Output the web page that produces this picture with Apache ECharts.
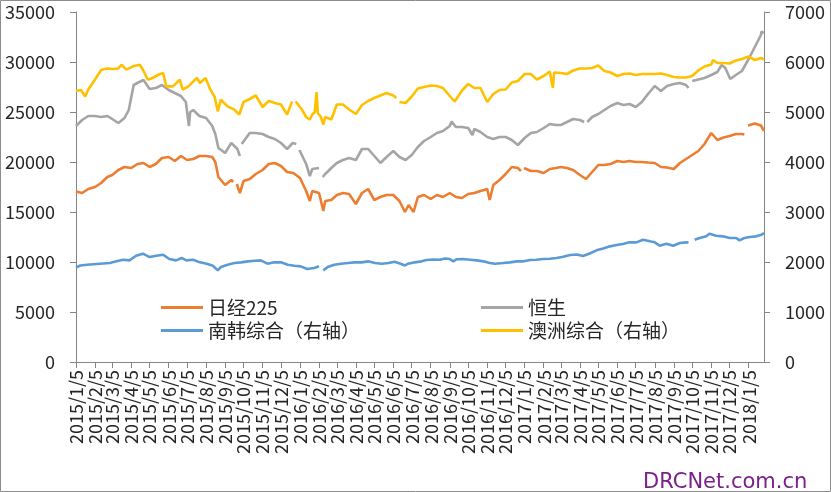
<!DOCTYPE html>
<html>
<head>
<meta charset="UTF-8">
<title>日经225 恒生 南韩综合 澳洲综合</title>
<script src="https://cdn.jsdelivr.net/npm/echarts@6/dist/echarts.min.js"></script>
<style>
html, body { margin: 0; padding: 0; background: #fff; }
#main { width: 831px; height: 492px; }
</style>
</head>
<body>
<div id="main"></div>
<script type="text/javascript">
// 数据：从图上读取，约每10天一个点；null 表示休市断点
var nikkei = [
  ['2015/1/5',17060],['2015/1/15',16900],['2015/1/25',17300],['2015/2/5',17500],['2015/2/15',17900],['2015/2/25',18500],
  ['2015/3/5',18700],['2015/3/15',19200],['2015/3/25',19500],['2015/4/5',19400],['2015/4/15',19800],['2015/4/25',19900],
  ['2015/5/5',19500],['2015/5/15',19800],['2015/5/25',20400],['2015/6/5',20500],['2015/6/15',20100],['2015/6/25',20600],
  ['2015/7/5',20200],['2015/7/15',20300],['2015/7/25',20600],['2015/8/5',20600],['2015/8/15',20500],['2015/8/20',20000],
  ['2015/8/25',18500],['2015/9/5',17700],['2015/9/15',18200],['2015/9/18',18000],['2015/9/21',null],['2015/9/24',17800],
  ['2015/9/29',16900],['2015/10/5',18100],['2015/10/15',18300],['2015/10/25',18800],['2015/11/5',19200],['2015/11/15',19800],
  ['2015/11/25',19900],['2015/12/5',19600],['2015/12/15',19000],['2015/12/25',18900],['2016/1/5',18400],['2016/1/15',17100],
  ['2016/1/21',16100],['2016/1/25',17100],['2016/2/5',16900],['2016/2/12',15100],['2016/2/15',16100],['2016/2/25',16200],
  ['2016/3/5',16700],['2016/3/15',16900],['2016/3/25',16800],['2016/4/5',15800],['2016/4/15',16900],['2016/4/25',17300],
  ['2016/5/5',16200],['2016/5/15',16500],['2016/5/25',16700],['2016/6/5',16700],['2016/6/15',16100],['2016/6/24',15000],
  ['2016/6/30',15700],['2016/7/8',15000],['2016/7/15',16500],['2016/7/25',16700],['2016/8/5',16300],['2016/8/15',16700],
  ['2016/8/25',16500],['2016/9/5',16900],['2016/9/15',16500],['2016/9/25',16400],['2016/10/5',16800],['2016/10/15',16900],
  ['2016/10/25',17100],['2016/11/5',17300],['2016/11/9',16200],['2016/11/15',17700],['2016/11/25',18200],['2016/12/5',18800],
  ['2016/12/15',19500],['2016/12/25',19400],['2016/12/30',19100],['2017/1/2',null],['2017/1/4',19400],['2017/1/15',19100],
  ['2017/1/25',19100],['2017/2/5',18900],['2017/2/15',19300],['2017/2/25',19400],['2017/3/5',19500],['2017/3/15',19400],
  ['2017/3/25',19200],['2017/4/5',18700],['2017/4/15',18300],['2017/4/25',19000],['2017/5/5',19700],['2017/5/15',19700],
  ['2017/5/25',19800],['2017/6/5',20100],['2017/6/15',20000],['2017/6/25',20100],['2017/7/5',20000],['2017/7/15',20000],
  ['2017/7/25',19950],['2017/8/5',19900],['2017/8/15',19500],['2017/8/25',19450],['2017/9/5',19300],['2017/9/8',19150],
  ['2017/9/15',19900],['2017/9/25',20300],['2017/10/5',20700],['2017/10/15',21100],['2017/10/25',21800],['2017/11/5',22900],
  ['2017/11/15',22200],['2017/11/25',22450],['2017/12/5',22600],['2017/12/15',22800],['2017/12/25',22800],['2017/12/29',22750],
  ['2018/1/1',null],['2018/1/4',23650],['2018/1/15',23850],['2018/1/25',23650],['2018/1/30',23100]
];

var hangSeng = [
  ['2015/1/5',23600],['2015/1/15',24200],['2015/1/25',24600],['2015/2/5',24600],['2015/2/15',24500],['2015/2/25',24600],
  ['2015/3/5',24300],['2015/3/15',23900],['2015/3/25',24400],['2015/4/1',25200],['2015/4/9',27700],['2015/4/15',27900],
  ['2015/4/25',28200],['2015/5/5',27300],['2015/5/15',27400],['2015/5/25',27700],['2015/6/5',27200],['2015/6/15',26900],
  ['2015/6/25',26600],['2015/7/3',26000],['2015/7/8',23600],['2015/7/10',25000],['2015/7/15',25200],['2015/7/25',24600],
  ['2015/8/5',24400],['2015/8/15',23600],['2015/8/20',22800],['2015/8/25',21400],['2015/9/5',20900],['2015/9/15',21900],
  ['2015/9/25',21300],['2015/9/29',20600],['2015/9/30',null],['2015/10/2',21800],['2015/10/15',22900],['2015/10/25',22900],
  ['2015/11/5',22800],['2015/11/15',22500],['2015/11/25',22300],['2015/12/5',21900],['2015/12/15',21300],['2015/12/24',21900],
  ['2015/12/30',21800],['2016/1/1',null],['2016/1/4',21200],['2016/1/15',19800],['2016/1/21',18600],['2016/1/25',19300],
  ['2016/2/5',19400],['2016/2/9',null],['2016/2/11',18500],['2016/2/12',18400],['2016/2/15',18800],['2016/2/25',19400],
  ['2016/3/5',19900],['2016/3/15',20200],['2016/3/25',20400],['2016/4/5',20200],['2016/4/15',21300],['2016/4/25',21300],
  ['2016/5/5',20600],['2016/5/15',19900],['2016/5/25',20500],['2016/6/5',21100],['2016/6/15',20500],['2016/6/25',20200],
  ['2016/7/5',20700],['2016/7/15',21500],['2016/7/25',22100],['2016/8/5',22500],['2016/8/15',22900],['2016/8/25',23100],
  ['2016/9/5',23600],['2016/9/8',24050],['2016/9/15',23500],['2016/9/25',23500],['2016/10/5',23400],['2016/10/12',22700],
  ['2016/10/15',23300],['2016/10/25',23000],['2016/11/5',22500],['2016/11/15',22300],['2016/11/25',22500],['2016/12/5',22500],
  ['2016/12/15',22200],['2016/12/25',21700],['2017/1/5',22400],['2017/1/15',22900],['2017/1/25',23000],['2017/2/5',23400],
  ['2017/2/15',23800],['2017/2/25',23700],['2017/3/5',23700],['2017/3/15',24000],['2017/3/25',24300],['2017/4/5',24200],
  ['2017/4/12',24000],['2017/4/14',null],['2017/4/17',24000],['2017/4/25',24500],['2017/5/5',24800],['2017/5/15',25200],
  ['2017/5/25',25600],['2017/6/5',25900],['2017/6/15',25700],['2017/6/25',25800],['2017/7/5',25500],['2017/7/15',26000],
  ['2017/7/25',26800],['2017/8/5',27600],['2017/8/15',27100],['2017/8/25',27600],['2017/9/5',27800],['2017/9/15',27900],
  ['2017/9/25',27700],['2017/9/29',27400],['2017/10/2',null],['2017/10/5',28100],['2017/10/15',28250],['2017/10/25',28400],
  ['2017/11/5',28700],['2017/11/15',29000],['2017/11/22',29700],['2017/11/28',29400],['2017/12/6',28300],['2017/12/15',28700],
  ['2017/12/25',29100],['2018/1/5',30300],['2018/1/15',31500],['2018/1/25',32700],['2018/1/26',33050],['2018/1/30',32900]
];

var kospi = [
  ['2015/1/5',1890],['2015/1/12',1930],['2015/1/23',1946],['2015/2/13',1966],['2015/3/1',1979],['2015/3/12',2013],
  ['2015/3/23',2046],['2015/4/2',2033],['2015/4/13',2126],['2015/4/24',2166],['2015/5/5',2099],['2015/5/16',2126],
  ['2015/5/27',2146],['2015/6/6',2059],['2015/6/17',2033],['2015/6/26',2079],['2015/7/4',2033],['2015/7/15',2046],
  ['2015/7/26',1993],['2015/8/6',1966],['2015/8/16',1926],['2015/8/24',1833],['2015/8/29',1899],['2015/9/9',1946],
  ['2015/9/20',1979],['2015/10/1',1993],['2015/10/12',2013],['2015/10/23',2026],['2015/11/2',2033],['2015/11/13',1966],
  ['2015/11/24',1993],['2015/12/5',1993],['2015/12/16',1946],['2015/12/27',1926],['2016/1/6',1913],['2016/1/17',1860],
  ['2016/1/28',1879],['2016/2/5',1913],['2016/2/9',null],['2016/2/12',1833],['2016/2/19',1899],['2016/3/1',1946],
  ['2016/3/12',1966],['2016/3/23',1979],['2016/4/3',1993],['2016/4/14',1993],['2016/4/25',2013],['2016/5/6',1979],
  ['2016/5/17',1966],['2016/5/28',1979],['2016/6/7',2006],['2016/6/18',1960],['2016/6/24',1930],['2016/6/29',1966],
  ['2016/7/10',1993],['2016/7/21',2013],['2016/7/29',2040],['2016/8/9',2050],['2016/8/20',2046],['2016/8/28',2070],
  ['2016/9/5',2059],['2016/9/11',2013],['2016/9/16',2055],['2016/9/27',2059],['2016/10/8',2046],['2016/10/19',2033],
  ['2016/10/30',2013],['2016/11/9',1979],['2016/11/18',1966],['2016/12/1',1979],['2016/12/12',1993],['2016/12/23',2013],
  ['2017/1/3',2013],['2017/1/14',2040],['2017/1/24',2046],['2017/2/4',2059],['2017/2/15',2065],['2017/2/26',2079],
  ['2017/3/9',2105],['2017/3/20',2140],['2017/3/31',2150],['2017/4/10',2120],['2017/4/21',2170],['2017/5/2',2233],
  ['2017/5/13',2270],['2017/5/24',2313],['2017/6/4',2339],['2017/6/14',2360],['2017/6/25',2393],['2017/7/6',2393],
  ['2017/7/17',2446],['2017/7/28',2413],['2017/8/5',2393],['2017/8/13',2326],['2017/8/24',2366],['2017/9/4',2326],
  ['2017/9/15',2379],['2017/9/26',2393],['2017/9/29',2390],['2017/10/4',null],['2017/10/9',2446],['2017/10/17',2479],
  ['2017/10/28',2513],['2017/11/2',2566],['2017/11/13',2526],['2017/11/24',2513],['2017/12/5',2479],['2017/12/16',2479],
  ['2017/12/21',2433],['2017/12/29',2479],['2018/1/7',2499],['2018/1/17',2513],['2018/1/26',2546],['2018/1/30',2579]
];

var asx = [
  ['2015/1/5',5420],['2015/1/13',5440],['2015/1/20',5310],['2015/1/25',5450],['2015/2/5',5650],['2015/2/15',5840],
  ['2015/2/25',5870],['2015/3/5',5860],['2015/3/15',5870],['2015/3/20',5946],['2015/3/28',5846],['2015/4/8',5913],
  ['2015/4/19',5946],['2015/4/24',5846],['2015/5/2',5646],['2015/5/10',5680],['2015/5/20',5750],['2015/5/27',5780],
  ['2015/6/1',5513],['2015/6/12',5513],['2015/6/23',5646],['2015/6/28',5446],['2015/7/7',5513],['2015/7/21',5680],
  ['2015/7/26',5580],['2015/8/4',5680],['2015/8/12',5446],['2015/8/19',5300],['2015/8/24',5013],['2015/8/29',5246],
  ['2015/9/9',5113],['2015/9/20',5046],['2015/9/28',4950],['2015/10/5',5200],['2015/10/15',5260],['2015/10/25',5330],
  ['2015/11/5',5100],['2015/11/15',5220],['2015/11/25',5180],['2015/12/5',5150],['2015/12/15',4950],['2015/12/23',5210],
  ['2015/12/25',null],['2015/12/29',5210],['2016/1/8',5050],['2016/1/15',4900],['2016/1/21',4850],['2016/1/25',4950],
  ['2016/1/29',5000],['2016/2/1',5400],['2016/2/3',4980],['2016/2/8',4900],['2016/2/12',4750],['2016/2/15',4900],
  ['2016/2/25',4850],['2016/3/5',5150],['2016/3/15',5150],['2016/3/25',5050],['2016/4/5',4960],['2016/4/15',5140],
  ['2016/4/25',5220],['2016/5/5',5280],['2016/5/15',5330],['2016/5/25',5380],['2016/6/5',5330],['2016/6/10',5280],
  ['2016/6/13',null],['2016/6/15',5200],['2016/6/25',5180],['2016/7/5',5310],['2016/7/15',5470],['2016/7/25',5500],
  ['2016/8/5',5530],['2016/8/15',5520],['2016/8/25',5480],['2016/9/5',5320],['2016/9/13',5210],['2016/9/25',5430],
  ['2016/10/5',5560],['2016/10/15',5480],['2016/10/25',5480],['2016/11/5',5200],['2016/11/15',5360],['2016/11/25',5440],
  ['2016/12/5',5450],['2016/12/15',5590],['2016/12/25',5620],['2017/1/5',5760],['2017/1/15',5760],['2017/1/25',5650],
  ['2017/2/5',5720],['2017/2/15',5810],['2017/2/20',5480],['2017/2/22',5790],['2017/3/5',5780],['2017/3/15',5760],
  ['2017/3/25',5830],['2017/4/5',5870],['2017/4/15',5870],['2017/4/25',5880],['2017/5/5',5930],['2017/5/15',5820],
  ['2017/5/25',5790],['2017/6/5',5720],['2017/6/15',5760],['2017/6/25',5770],['2017/7/5',5740],['2017/7/15',5760],
  ['2017/7/25',5760],['2017/8/5',5760],['2017/8/15',5770],['2017/8/25',5740],['2017/9/5',5700],['2017/9/15',5690],
  ['2017/9/25',5690],['2017/10/5',5720],['2017/10/15',5830],['2017/10/25',5910],['2017/11/5',5950],['2017/11/8',6040],
  ['2017/11/15',5980],['2017/11/25',5980],['2017/12/5',5970],['2017/12/15',6030],['2017/12/25',6060],['2018/1/5',6110],
  ['2018/1/15',6040],['2018/1/25',6080],['2018/1/30',6050]
];

var seriesNames = ['日经225', '恒生', '南韩综合（右轴）', '澳洲综合（右轴）'];
var seriesColors = ['#ED7D31', '#A5A5A5', '#5B9BD5', '#FFC000'];
var leftTicks = [0, 35000, 5000];
var rightTicks = [0, 7000, 1000];

// 横轴：逐日日期，每月5日标注
var categories = [];
var catIndex = {};
var day = new Date(2015, 0, 5);
var lastDay = new Date(2018, 0, 30);
while (day <= lastDay) {
    var key = day.getFullYear() + '/' + (day.getMonth() + 1) + '/' + day.getDate();
    catIndex[key] = categories.length;
    categories.push(key);
    day.setDate(day.getDate() + 1);
}

function toSeries(list) {
    return list.map(function (p) { return [catIndex[p[0]], p[1]]; });
}

function isMonthTick(index, value) {
    return value.split('/')[2] === '5';
}

var fontName = 'Noto Sans CJK SC';
var axisColor = '#868686';
var textColor = '#262626';

var myChart = echarts.init(document.getElementById('main'));

var legendBase = {
    orient: 'vertical',
    top: 291,
    icon: 'rect',
    itemWidth: 42,
    itemHeight: 3,
    itemGap: 0,
    textStyle: { fontSize: 19, lineHeight: 23, color: textColor, fontFamily: fontName }
};

option = {
    animation: false,
    backgroundColor: '#fff',
    textStyle: { fontFamily: fontName },
    grid: { left: 76, right: 67, top: 12, bottom: 130, outerBoundsMode: 'none' },
    legend: [
        Object.assign({}, legendBase, { left: 156, data: [seriesNames[0], seriesNames[2]] }),
        Object.assign({}, legendBase, { left: 476, data: [seriesNames[1], seriesNames[3]] })
    ],
    xAxis: {
        type: 'category',
        data: categories,
        boundaryGap: false,
        axisLine: { lineStyle: { color: axisColor, width: 1 } },
        axisTick: { interval: isMonthTick, length: 6, lineStyle: { color: axisColor } },
        axisLabel: {
            interval: isMonthTick,
            rotate: 90,
            margin: 8,
            fontSize: 18,
            color: textColor,
            fontFamily: fontName
        },
        splitLine: { show: false }
    },
    yAxis: [{
        type: 'value',
        position: 'left',
        min: leftTicks[0],
        max: leftTicks[1],
        interval: leftTicks[2],
        axisLine: { show: true, lineStyle: { color: axisColor, width: 1 } },
        axisTick: { show: true, length: 6, lineStyle: { color: axisColor } },
        axisLabel: {
            margin: 21, fontSize: 18, color: textColor, fontFamily: fontName,
            formatter: function (v) { return String(v); }
        },
        splitLine: { show: false }
    }, {
        type: 'value',
        position: 'right',
        min: rightTicks[0],
        max: rightTicks[1],
        interval: rightTicks[2],
        axisLine: { show: true, lineStyle: { color: axisColor, width: 1 } },
        axisTick: { show: true, length: 6, lineStyle: { color: axisColor } },
        axisLabel: {
            margin: 21, fontSize: 18, color: textColor, fontFamily: fontName,
            formatter: function (v) { return String(v); }
        },
        splitLine: { show: false }
    }],
    series: [
        { name: seriesNames[0], type: 'line', yAxisIndex: 0, data: toSeries(nikkei) },
        { name: seriesNames[1], type: 'line', yAxisIndex: 0, data: toSeries(hangSeng) },
        { name: seriesNames[2], type: 'line', yAxisIndex: 1, data: toSeries(kospi) },
        { name: seriesNames[3], type: 'line', yAxisIndex: 1, data: toSeries(asx) }
    ].map(function (s, i) {
        s.symbol = 'none';
        s.showSymbol = false;
        s.connectNulls = false;
        s.color = seriesColors[i];
        s.itemStyle = { color: seriesColors[i] };
        s.lineStyle = { width: 2.6, color: seriesColors[i] };
        return s;
    }),
    graphic: [{
        type: 'rect',
        shape: { x: 0.5, y: 0.5, width: 830, height: 491 },
        style: { fill: 'none', stroke: '#8c8c8c', lineWidth: 1 },
        silent: true
    }, {
        type: 'text',
        left: 643,
        top: 472,
        style: { text: 'DRCNet.com.cn', fill: '#7B1F8C', font: '21px "DejaVu Sans"' },
        silent: true
    }]
};
myChart.setOption(option);
</script>
</body>
</html>
